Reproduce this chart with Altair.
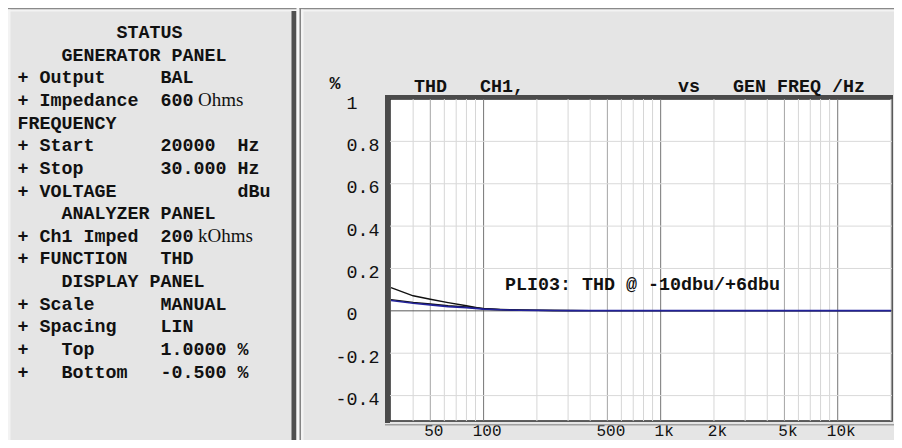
import altair as alt
import pandas as pd

# ---------------- values ----------------
freq_hz = [30, 40, 50, 63, 80, 100, 125, 160, 200, 250, 315, 400, 500, 630, 800,
           1000, 1250, 1600, 2000, 2500, 3150, 4000, 5000, 6300, 8000,
           10000, 12500, 16000, 20000]
thd_upper_black = [0.110, 0.071, 0.055, 0.039, 0.024, 0.009, 0.005, 0.003, 0.002, 0.0015,
                   0.0012, 0.0010, 0.0010, 0.0010, 0.0010, 0.0010, 0.0010, 0.0010, 0.0010,
                   0.0010, 0.0010, 0.0010, 0.0010, 0.0010, 0.0010, 0.0010, 0.0010, 0.0010, 0.0010]
thd_lower_black = [0.053, 0.040, 0.032, 0.024, 0.018, 0.011, 0.007, 0.004, 0.0025, 0.0018,
                   0.0013, 0.0010, 0.0010, 0.0010, 0.0010, 0.0010, 0.0010, 0.0010, 0.0010,
                   0.0010, 0.0010, 0.0010, 0.0010, 0.0010, 0.0010, 0.0010, 0.0010, 0.0010, 0.0010]
thd_blue = [0.049, 0.036, 0.028, 0.020, 0.015, 0.008, 0.005, 0.003, 0.002, 0.0014,
            0.0010, 0.0008, 0.0008, 0.0008, 0.0008, 0.0008, 0.0008, 0.0008, 0.0008,
            0.0008, 0.0008, 0.0008, 0.0008, 0.0008, 0.0008, 0.0008, 0.0008, 0.0008, 0.0008]

grid_freqs = [40, 50, 60, 70, 80, 90, 100, 200, 300, 400, 500, 600, 700, 800, 900,
              1000, 2000, 3000, 4000, 5000, 6000, 7000, 8000, 9000, 10000, 20000]
grid_class = ["minor", "half", "minor", "minor", "minor", "minor", "decade",
              "minor", "minor", "minor", "half", "minor", "minor", "minor", "minor",
              "decade", "minor", "minor", "minor", "half", "minor", "minor", "minor", "minor",
              "decade", "minor"]

x_label_values = [50, 100, 500, 1000, 2000, 5000, 10000]
x_label_texts = ["50", "100", "500", "1k", "2k", "5k", "10k"]

y_tick_values = [1, 0.8, 0.6, 0.4, 0.2, 0, -0.2, -0.4]
y_tick_texts = ["1", "0.8", "0.6", "0.4", "0.2", "0", "-0.2", "-0.4"]
y_grid_values = [0.8, 0.6, 0.4, 0.2, -0.2, -0.4]

annotation_text = "PLI03: THD @ -10dbu/+6dbu"
annotation_freq = [132]
annotation_thd = [0.122]

plot_title = "THD   CH1,              vs   GEN FREQ /Hz"
unit_title = "%"

status_lines = [
    "         STATUS",
    "    GENERATOR PANEL",
    "+ Output     BAL",
    "+ Impedance  600",
    "FREQUENCY",
    "+ Start      20000  Hz",
    "+ Stop       30.000 Hz",
    "+ VOLTAGE           dBu",
    "    ANALYZER PANEL",
    "+ Ch1 Imped  200",
    "+ FUNCTION   THD",
    "    DISPLAY PANEL",
    "+ Scale      MANUAL",
    "+ Spacing    LIN",
    "+   Top      1.0000 %",
    "+   Bottom   -0.500 %",
]
status_unit_rows = [3, 9]
status_unit_texts = ["Ohms", "kOhms"]

# ---------------- styling ----------------
NB = "\u00a0"
ZW = "\u200b"   # zero-width lead so that leading blanks are kept


def nb(s):
    return ZW + s.replace(" ", NB)


MONO = "Liberation Mono"
SERIF = "Liberation Serif"
FS = 18.33
PANEL = "#e5e5e5"
LINE_H = 22.65
STATUS_Y0 = -61

xs = alt.Scale(type="log", domain=[29.6, 20260], nice=False)
ys = alt.Scale(domain=[-0.52, 1.0], nice=False, zero=False)


def chain(vals, texts):
    e = "''"
    for v, t in reversed(list(zip(vals, texts))):
        e = f"datum.value == {v} ? '{t}' : {e}"
    return e


x_label_expr = chain(x_label_values, x_label_texts)
y_label_expr = chain(y_tick_values,
                     [t if t.startswith("-") else ZW + NB + t for t in y_tick_texts])

x_axis = alt.Axis(values=x_label_values, labelExpr=x_label_expr, ticks=False, tickSize=0,
                  domain=False, grid=False, title=None, labelFont=MONO, labelFontSize=16,
                  labelColor="#111111", labelPadding=14, labelBaseline="alphabetic",
                  labelOffset=3, labelFlush=False, labelOverlap=False)
y_axis = alt.Axis(values=y_tick_values, labelExpr=y_label_expr, ticks=False, tickSize=0,
                  domain=False, grid=False, title=None, labelFont=MONO, labelFontSize=FS,
                  labelColor="#111111", labelAlign="left", labelPadding=55, labelOffset=4,
                  labelFlush=False, labelOverlap=False)


def X(field):
    return alt.X(field, type="quantitative", scale=xs, axis=x_axis)


def Y(field):
    return alt.Y(field, type="quantitative", scale=ys, axis=y_axis)


one = alt.Data(values=[{}])

# ---------------- plot layers ----------------
vgrid_df = pd.DataFrame({"freq": grid_freqs, "cls": grid_class})
vgrid = alt.Chart(vgrid_df).mark_rule(strokeWidth=1).encode(
    x=X("freq"),
    color=alt.Color("cls:N", legend=None,
                    scale=alt.Scale(domain=["minor", "half", "decade"],
                                    range=["#d6d6d6", "#a4a4a4", "#767676"])),
)
hgrid = alt.Chart(pd.DataFrame({"v": y_grid_values})).mark_rule(
    strokeWidth=1, color="#d9d9d9").encode(y=Y("v"))
zero_line = alt.Chart(pd.DataFrame({"v": [0]})).mark_rule(
    strokeWidth=1, color="#5a5a5a").encode(y=Y("v"))


def curve(values, color, width):
    df = pd.DataFrame({"freq": freq_hz, "thd": values})
    return alt.Chart(df).mark_line(color=color, strokeWidth=width).encode(
        x=X("freq"), y=Y("thd"))


line_a = curve(thd_upper_black, "#111111", 1.4)
line_b = curve(thd_lower_black, "#111111", 1.4)
line_c = curve(thd_blue, "#22229a", 1.6)

annot = alt.Chart(pd.DataFrame({"freq": annotation_freq, "thd": annotation_thd,
                                "t": [nb(annotation_text)]})).mark_text(
    font=MONO, fontSize=FS, fontWeight="bold", align="left", baseline="middle",
    color="#111111").encode(x=X("freq"), y=Y("thd"), text="t:N")


# ---------------- frame decorations (pixel offsets relative to the plot area) ----------------
def box(x1, x2, y1, y2, color):
    return alt.Chart(one).mark_rect(color=color).encode(
        x=alt.value(x1), x2=alt.value(x2), y=alt.value(y1), y2=alt.value(y2))


decor_back = [
    box(-382, 504, -91, -89.5, "#8a8a8a"),      # panel top borders
    box(-382, 504, -89.5, -87.5, "#f3f3f3"),    # highlight below top border
    box(-382, -379.5, -89.5, 341, "#f3f3f3"),   # left panel inner highlight
    box(-98.5, -93.5, -88, 341, "#4f4f4f"),     # left panel dark right edge
    box(-93.5, -90.5, -91, 341, "#f6f6f6"),     # gap between panels
    box(-90.5, -89, -91, 341, "#858585"),       # right panel left border
    box(-89, -86.5, -89.5, 341, "#f3f3f3"),     # right panel inner highlight
]
decor_front = [
    box(-5, 0, -4, 324, "#4a4a4a"),             # plot bevel left
    box(-5, 503, -4, 0, "#4a4a4a"),             # plot bevel top
    box(-5, 504, 325, 326.5, "#a0a0a0"),        # outer bottom line
]

title_main = alt.Chart(one).mark_text(
    font=MONO, fontSize=FS, fontWeight="bold", align="left", baseline="alphabetic",
    color="#111111").encode(x=alt.value(24), y=alt.value(-7.5), text=alt.value(nb(plot_title)))
title_unit = alt.Chart(one).mark_text(
    font=MONO, fontSize=FS, fontWeight="bold", align="left", baseline="alphabetic",
    color="#111111").encode(x=alt.value(-60.5), y=alt.value(-10), text=alt.value(unit_title))

status_text = alt.Chart(one).mark_text(
    font=MONO, fontSize=FS, fontWeight="bold", align="left", baseline="alphabetic",
    lineHeight=LINE_H, color="#111111").encode(
    x=alt.value(-372.5), y=alt.value(STATUS_Y0),
    text=alt.value([nb(s) for s in status_lines]))

unit_marks = [
    alt.Chart(one).mark_text(
        font=SERIF, fontSize=19, fontWeight="normal", align="left", baseline="alphabetic",
        color="#111111").encode(
        x=alt.value(-192), y=alt.value(STATUS_Y0 + row * LINE_H), text=alt.value(txt))
    for row, txt in zip(status_unit_rows, status_unit_texts)
]

chart = alt.layer(
    *decor_back, vgrid, hgrid, zero_line, line_a, line_b, line_c, annot,
    *decor_front, title_main, title_unit, status_text, *unit_marks,
).properties(
    width=502, height=322,
    padding={"left": 382, "top": 91, "right": 2, "bottom": 19},
    autosize=alt.AutoSizeParams(type="none"),
    background=PANEL,
).configure_view(
    fill="white", stroke="#2b2b2b", strokeWidth=1.5,
)

chart.save("out.html", embed_options={"renderer": "svg", "actions": False})
